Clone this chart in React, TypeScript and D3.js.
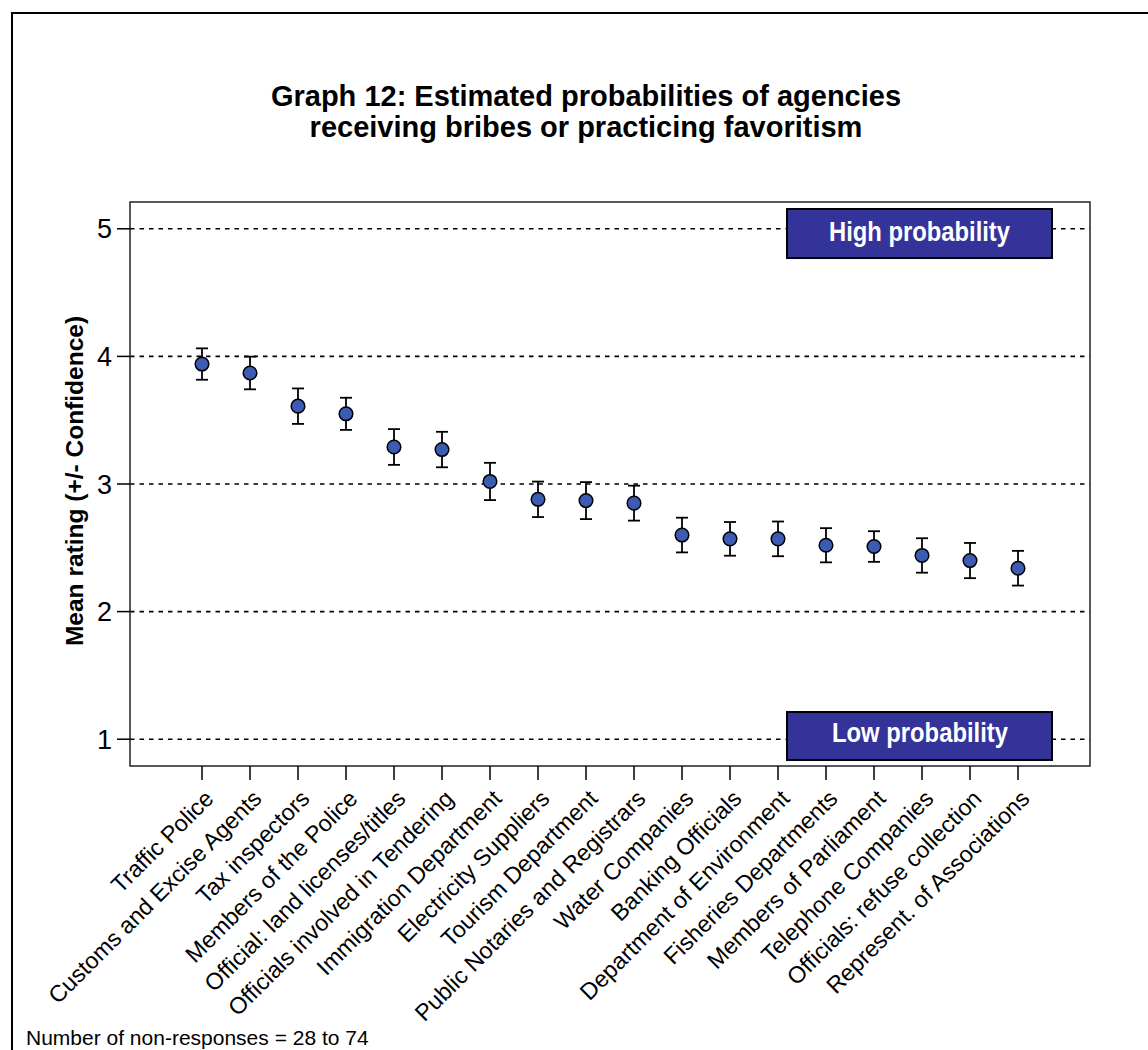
import React from "react";
import * as d3 from "d3";

const categories = [
  "Traffic Police",
  "Customs and Excise Agents",
  "Tax inspectors",
  "Members of the Police",
  "Official: land licenses/titles",
  "Officials involved in Tendering",
  "Immigration Department",
  "Electricity Suppliers",
  "Tourism Department",
  "Public Notaries and Registrars",
  "Water Companies",
  "Banking Officials",
  "Department of Environment",
  "Fisheries Departments",
  "Members of Parliament",
  "Telephone Companies",
  "Officials: refuse collection",
  "Represent. of Associations",
];
const means = [3.94, 3.87, 3.61, 3.55, 3.29, 3.27, 3.02, 2.88, 2.87, 2.85, 2.6, 2.57, 2.57, 2.52, 2.51, 2.44, 2.4, 2.34];
const halfCI = [0.123, 0.128, 0.139, 0.126, 0.14, 0.139, 0.146, 0.139, 0.145, 0.137, 0.136, 0.132, 0.136, 0.134, 0.12, 0.135, 0.138, 0.136];
const yTicks = [1, 2, 3, 4, 5];
const titleLines = ["Graph 12: Estimated probabilities of agencies", "receiving bribes or practicing favoritism"];
const yLabel = "Mean rating (+/- Confidence)";
const footer = "Number of non-responses = 28 to 74";
const highLabel = "High probability";
const lowLabel = "Low probability";

const W = 1148;
const H = 1050;
const L = 130, R = 1090, T = 202, B = 766;
const FONT = "'Liberation Sans', Arial, Helvetica, sans-serif";

export default function App() {
  const x = d3.scalePoint<string>().domain(categories).range([L, R]).padding(1.5);
  const y = d3.scaleLinear().domain([0.79, 5.21]).range([B, T]);
  const cap = 6;

  const box = (label: string, y0: number, y1: number, tx: number, tw: number, base: number) => (
    <g>
      <rect x={787} y={y0} width={265} height={y1 - y0} fill="#333399" stroke="#000" strokeWidth={2} />
      <text x={tx} y={base} fill="#fff" fontFamily={FONT} fontWeight="bold" fontSize={28}
        textLength={tw} lengthAdjust="spacingAndGlyphs">{label}</text>
    </g>
  );

  return (
    <svg width={W} height={H} style={{ position: "absolute", left: 0, top: 0, background: "#fff" }}
      xmlns="http://www.w3.org/2000/svg">
      <rect x={0} y={0} width={W} height={H} fill="#fff" />
      <rect x={12} y={13} width={1300} height={1200} fill="none" stroke="#000" strokeWidth={2} />
      {titleLines.map((t, i) => (
        <text key={i} x={586} y={106 + i * 31} textAnchor="middle" fontFamily={FONT} fontWeight="bold" fontSize={29}>{t}</text>
      ))}
      {/* gridlines */}
      {yTicks.map((v) => (
        <line key={v} x1={L} x2={R} y1={y(v)} y2={y(v)} stroke="#000" strokeWidth={1.6} strokeDasharray="4.5,5" />
      ))}
      {/* frame */}
      <rect x={L} y={T} width={R - L} height={B - T} fill="none" stroke="#222" strokeWidth={1.5} />
      {/* y ticks */}
      {yTicks.map((v) => (
        <g key={v}>
          <line x1={117} x2={L} y1={y(v)} y2={y(v)} stroke="#000" strokeWidth={1.5} />
          <text x={112} y={y(v) + 9.5} textAnchor="end" fontFamily={FONT} fontSize={27}>{v}</text>
        </g>
      ))}
      <text transform={`translate(83,481) rotate(-90)`} textAnchor="middle" fontFamily={FONT} fontWeight="bold" fontSize={24.5}>{yLabel}</text>
      {/* x ticks and labels */}
      {categories.map((c) => (
        <g key={c}>
          <line x1={x(c)!} x2={x(c)!} y1={B} y2={B + 14} stroke="#000" strokeWidth={1.5} />
          <text transform={`translate(${x(c)! + 13},${800}) rotate(-45)`} textAnchor="end" fontFamily={FONT} fontSize={23.3}>{c}</text>
        </g>
      ))}
      {/* annotation boxes */}
      {box(highLabel, 209, 258, 829, 181, 241)}
      {box(lowLabel, 712, 760, 832, 176, 742)}
      {/* error bars and points */}
      {categories.map((c, i) => {
        const cx = x(c)!;
        const lo = y(means[i] - halfCI[i]);
        const hi = y(means[i] + halfCI[i]);
        return (
          <g key={c}>
            <line x1={cx} x2={cx} y1={hi} y2={lo} stroke="#000" strokeWidth={1.8} />
            <line x1={cx - cap} x2={cx + cap} y1={hi} y2={hi} stroke="#000" strokeWidth={1.8} />
            <line x1={cx - cap} x2={cx + cap} y1={lo} y2={lo} stroke="#000" strokeWidth={1.8} />
            <circle cx={cx} cy={y(means[i])} r={6.8} fill="#3D5BB3" stroke="#000" strokeWidth={1.5} />
          </g>
        );
      })}
      <text x={26} y={1045} fontFamily={FONT} fontSize={21}>{footer}</text>
    </svg>
  );
}
